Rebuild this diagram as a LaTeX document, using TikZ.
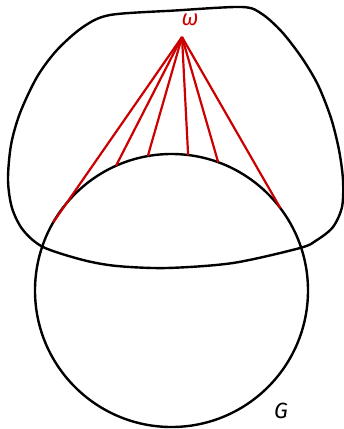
\documentclass[tikz,border=0pt]{standalone}
\usepackage{fontspec}
\setmainfont{Fira Sans}
\definecolor{wred}{RGB}{204,0,0}
\begin{document}
\begin{tikzpicture}[x=1pt,y=-1pt,
  blob/.style={draw=black,line width=2.4pt},
  ray/.style={draw=wred,line width=2.2pt},
  lab/.style={font=\fontsize{22}{24}\selectfont\itshape,inner sep=0pt}]
\useasboundingbox (0,0) rectangle (344,429);
\draw[blob] plot[smooth cycle,tension=0.5] coordinates {
 (110,15) (175,10.5) (242,7) (262,14) (282,32) (302,58) (318,85) (331,118) (339,150) (343,180)
 (342,207) (333,227) (317,240) (300,248) (233,263) (167,268) (117,266) (83,260) (43,247) (23,230)
 (12,208) (8,180) (11,145) (20,113) (37,77) (57,50) (83,27)};
\node[blob,circle,minimum size=273pt,inner sep=0pt,outer sep=0pt] (circ) at (171.5,290.5) {};
\coordinate (w) at (182,37);
\foreach \a in {150.5,114.6,100.3,83,70,37.5}
  \draw[ray] (w) -- (circ.\a);
\node[lab,text=wred] (om) at (190,20) {ω};
\node[lab] (G) at (281,411) {G};
\end{tikzpicture}
\end{document}
